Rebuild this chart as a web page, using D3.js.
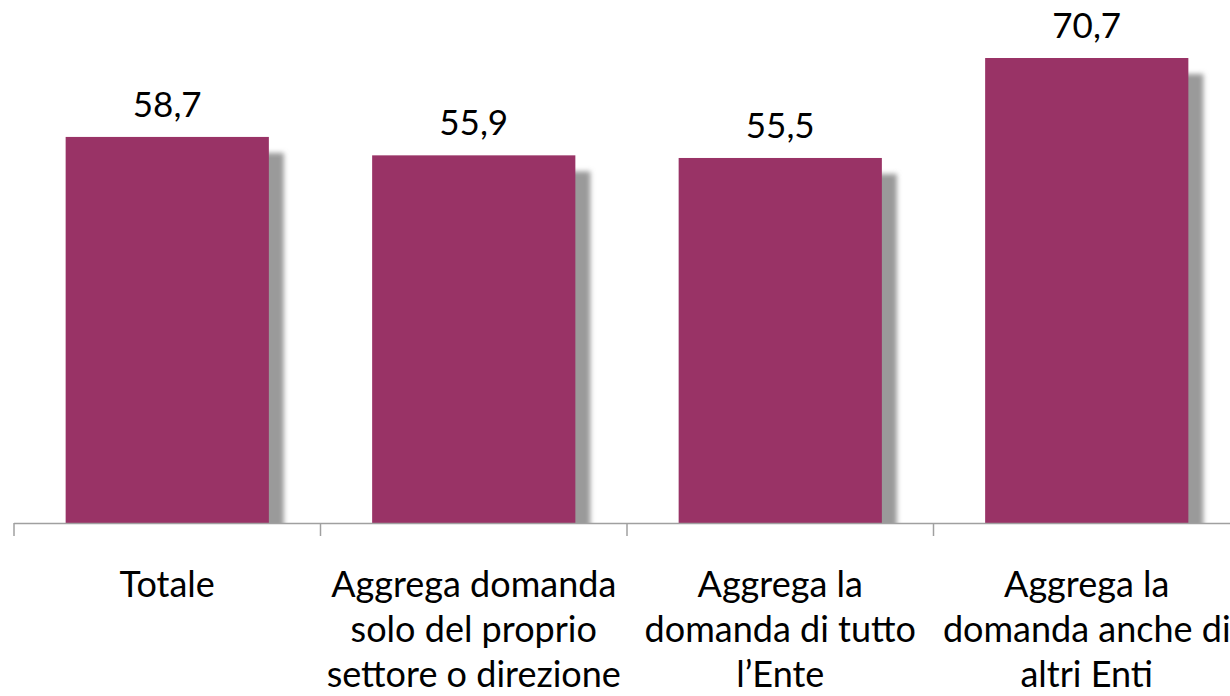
<!DOCTYPE html>
<html lang="it">
<head>
<meta charset="UTF-8">
<title>Aggregazione domanda</title>
<script src="https://cdn.jsdelivr.net/npm/d3@7"></script>
<style>
    body { margin: 0; background: #fff; }
    svg { display: block; font-family: Lato, "Open Sans", sans-serif; }
    .val { font-size: 35px; fill: #000; text-anchor: middle; }
    .cat { font-size: 36px; fill: #000; text-anchor: middle; }
</style>
</head>
<body>
<div id="chart"></div>
<script>
    // categories (already split in lines as in the original) and values
    var categories = ["Totale", "Aggrega domanda solo", "Aggrega la domanda di tutto", "Aggrega la domanda anche"];
    var catLines = [
        ["Totale"],
        ["Aggrega domanda", "solo del proprio", "settore o direzione"],
        ["Aggrega la", "domanda di tutto", "l\u2019Ente"],
        ["Aggrega la", "domanda anche di", "altri Enti"]
    ];
    var values = [58.7, 55.9, 55.5, 70.7];
    var valueLabels = ["58,7", "55,9", "55,5", "70,7"];

    var W = 1230, H = 696;
    var axisY = 523;

    var svg = d3.select("#chart").append("svg")
        .attr("width", W).attr("height", H);

    var defs = svg.append("defs");
    var f = defs.append("filter").attr("id", "blur")
        .attr("x", "-10%").attr("y", "-10%").attr("width", "120%").attr("height", "120%");
    f.append("feGaussianBlur").attr("stdDeviation", 2.5);
    defs.append("clipPath").attr("id", "plotclip")
        .append("rect").attr("x", 0).attr("y", 0).attr("width", W).attr("height", axisY);

    var x = d3.scaleBand()
        .domain(categories)
        .range([14, 1240])
        .paddingInner(0.337)
        .paddingOuter(0.1685);

    var band = d3.scaleBand().domain(categories).range([14, 1240]);

    var y = d3.scaleLinear()
        .domain([0, 80])
        .range([axisY, axisY - 80 * 6.577]);

    // shadows
    svg.append("g").attr("clip-path", "url(#plotclip)")
        .selectAll("rect").data(values).enter().append("rect")
        .attr("x", function (d, i) { return x(categories[i]) + 15; })
        .attr("y", function (d) { return y(d) + 16; })
        .attr("width", x.bandwidth())
        .attr("height", function (d) { return axisY - y(d); })
        .attr("fill", "#9a9a9a")
        .attr("filter", "url(#blur)");

    // bars
    svg.append("g").selectAll("rect").data(values).enter().append("rect")
        .attr("x", function (d, i) { return x(categories[i]); })
        .attr("y", function (d) { return y(d); })
        .attr("width", x.bandwidth())
        .attr("height", function (d) { return axisY - y(d); })
        .attr("fill", "#993366");

    // value labels
    svg.append("g").selectAll("text").data(values).enter().append("text")
        .attr("class", "val")
        .attr("x", function (d, i) { return x(categories[i]) + x.bandwidth() / 2; })
        .attr("y", function (d) { return y(d) - 20; })
        .text(function (d, i) { return valueLabels[i]; });

    // x axis: line and ticks at band boundaries
    var ax = svg.append("g");
    ax.append("line")
        .attr("x1", 14).attr("x2", W)
        .attr("y1", axisY + 0.5).attr("y2", axisY + 0.5)
        .attr("stroke", "#a0a0a0").attr("stroke-width", 1.5);
    var ticks = categories.map(function (c) { return band(c); }).concat([band.range()[1]]);
    ax.selectAll(".tk").data(ticks).enter().append("line")
        .attr("x1", function (d) { return d; }).attr("x2", function (d) { return d; })
        .attr("y1", axisY).attr("y2", axisY + 13)
        .attr("stroke", "#a0a0a0").attr("stroke-width", 1.5);

    // category labels
    var cl = svg.append("g").selectAll("text").data(catLines).enter().append("text")
        .attr("class", "cat")
        .attr("x", function (d, i) { return band(categories[i]) + band.bandwidth() / 2; })
        .attr("y", 597);
    cl.selectAll("tspan").data(function (d) { return d; }).enter().append("tspan")
        .attr("x", function () { return d3.select(this.parentNode).attr("x"); })
        .attr("dy", function (d, i) { return i === 0 ? 0 : 45; })
        .text(function (d) { return d; });
</script>
</body>
</html>
